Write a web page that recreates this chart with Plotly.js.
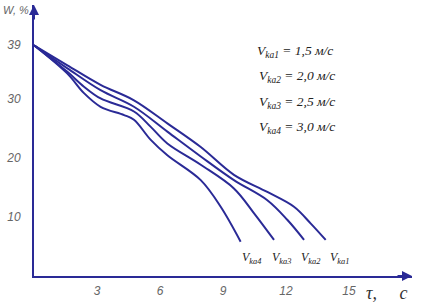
<!DOCTYPE html>
<html>
<head>
<meta charset="utf-8">
<script src="https://cdn.plot.ly/plotly-3.0.1.min.js"></script>
<style>
  html, body { margin: 0; padding: 0; background: #fff; }
  #chart { width: 421px; height: 304px; }
</style>
</head>
<body>
<div id="chart"></div>
<script>
// drying time, s
const tau1 = [0, 1.59, 3.17, 4.76, 6.35, 7.94, 9.52, 11.11, 12.38, 13.17, 13.89];
const tau2 = [0, 1.59, 3.17, 4.76, 6.35, 7.94, 9.52, 11.11, 12.06, 12.86];
const tau3 = [0, 1.59, 2.38, 3.17, 4.76, 5.56, 6.35, 7.94, 9.52, 10.48, 11.43];
const tau4 = [0, 1.59, 2.38, 3.17, 4.29, 4.76, 5.56, 6.35, 7.94, 8.89, 9.84];

// moisture W, %
const w1 = [39, 35.6, 32.3, 29.7, 25.8, 21.8, 17.1, 14.2, 11.7, 8.9, 6.1];
const w2 = [39, 35.1, 31.4, 28.6, 24.4, 20.2, 16.2, 12.8, 9.5, 6.1];
const w3 = [39, 34.5, 32.0, 30.0, 27.8, 25.2, 22.4, 18.8, 14.8, 10.6, 6.1];
const w4 = [39, 34.2, 30.9, 28.6, 27.2, 26.4, 23.0, 20.4, 16.2, 11.7, 5.8];

const seriesNames = ['V<sub>ka1</sub>', 'V<sub>ka2</sub>', 'V<sub>ka3</sub>', 'V<sub>ka4</sub>'];
const speeds = ['1,5', '2,0', '2,5', '3,0'];

const xTicks = [3, 6, 9, 12, 15];
const yTicks = [10, 20, 30, 39];

const BLUE = '#2a2a96';
const TICK_FONT = { family: 'Liberation Sans Narrow, Liberation Sans, sans-serif', size: 12, color: '#666', style: 'italic' };
const SERIF = 'Liberation Serif, DejaVu Serif, serif';

const xs = [tau1, tau2, tau3, tau4];
const ys = [w1, w2, w3, w4];

const traces = xs.map((x, i) => ({
    x: x,
    y: ys[i],
    type: 'scatter',
    mode: 'lines',
    line: { color: BLUE, width: 2, shape: 'spline', smoothing: 1 },
    hoverinfo: 'skip',
    showlegend: false
}));

const W = 421, H = 304;
const margin = { l: 34, r: 9, t: 5, b: 28 };
const pw = W - margin.l - margin.r, ph = H - margin.t - margin.b;

const annotations = [];

// labels under the end of each curve (pixel nudge so they don't collide)
const labelShift = [14, 6, 7, 11];
xs.forEach((x, i) => {
    annotations.push({
        x: x[x.length - 1], y: 3, xref: 'x', yref: 'y',
        xanchor: 'center', yanchor: 'middle', xshift: labelShift[i],
        text: seriesNames[i], showarrow: false,
        font: { family: SERIF, size: 12, color: '#222', style: 'italic' }
    });
});

// speed block, placed in pixels
speeds.forEach((s, i) => {
    annotations.push({
        x: (255 + (i ? 2 : 0) - margin.l) / pw,
        y: 1 - (52 + i * 25 - margin.t) / ph,
        xref: 'paper', yref: 'paper', xanchor: 'left', yanchor: 'middle',
        text: seriesNames[i] + ' = ' + s + ' м/с', showarrow: false,
        font: { family: SERIF, size: 13.5, color: '#222', style: 'italic' }
    });
});

// axis titles
annotations.push({
    x: -33 / pw, y: 1, xref: 'paper', yref: 'paper', xanchor: 'left', yanchor: 'top', yshift: 3,
    text: 'W, %', showarrow: false, font: { ...TICK_FONT, size: 11 }
});
annotations.push({
    x: 1, y: 0, xref: 'paper', yref: 'paper', xanchor: 'right', yanchor: 'top', yshift: -5, xshift: -3,
    text: 'τ,\u00a0\u00a0\u00a0\u00a0\u00a0с', showarrow: false, font: { family: SERIF, size: 18, color: '#333', style: 'italic' }
});

// axis arrows
annotations.push({
    x: 1, y: 0, xref: 'paper', yref: 'paper', ax: -16, ay: 0,
    showarrow: true, arrowhead: 2, arrowsize: 1, arrowwidth: 2, arrowcolor: BLUE, text: ''
});
annotations.push({
    x: 0, y: 1, xref: 'paper', yref: 'paper', ax: 0, ay: 16,
    showarrow: true, arrowhead: 2, arrowsize: 1, arrowwidth: 2, arrowcolor: BLUE, text: ''
});

const layout = {
    width: W, height: H,
    margin: margin,
    paper_bgcolor: '#fff',
    plot_bgcolor: '#fff',
    showlegend: false,
    xaxis: {
        range: [0, 18], showgrid: false, zeroline: false,
        showline: true, linecolor: BLUE, linewidth: 2,
        tickvals: xTicks, ticktext: xTicks.map(String),
        ticks: 'outside', ticklen: 3, tickcolor: 'rgba(0,0,0,0)',
        tickfont: TICK_FONT, fixedrange: true
    },
    yaxis: {
        range: [0, 45.8], showgrid: false, zeroline: false,
        showline: true, linecolor: BLUE, linewidth: 2,
        tickvals: yTicks, ticktext: yTicks.map(String),
        ticks: 'outside', ticklen: 9, tickcolor: 'rgba(0,0,0,0)',
        tickfont: TICK_FONT, fixedrange: true
    },
    annotations: annotations
};

Plotly.newPlot('chart', traces, layout, { displayModeBar: false, staticPlot: true });
</script>
</body>
</html>
